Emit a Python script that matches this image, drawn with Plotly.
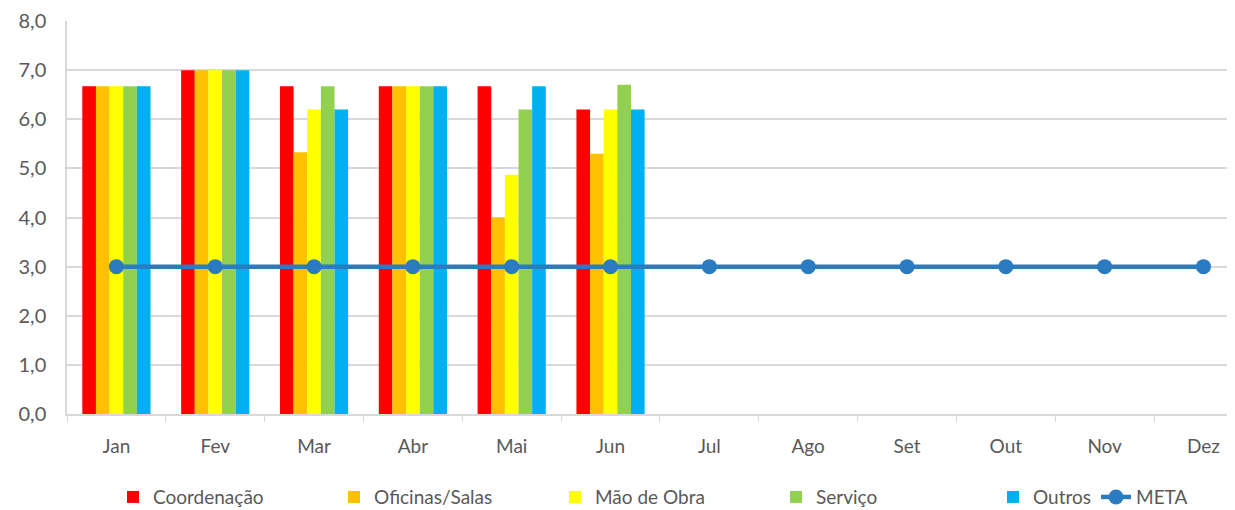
import plotly.graph_objects as go

months = ["Jan", "Fev", "Mar", "Abr", "Mai", "Jun", "Jul", "Ago", "Set", "Out", "Nov", "Dez"]
coordenacao = [6.67, 7.0, 6.67, 6.67, 6.67, 6.2]
oficinas = [6.67, 7.0, 5.33, 6.67, 4.0, 5.3]
mao_de_obra = [6.67, 7.0, 6.2, 6.67, 4.87, 6.2]
servico = [6.67, 7.0, 6.67, 6.67, 6.2, 6.7]
outros = [6.67, 7.0, 6.2, 6.67, 6.67, 6.2]
meta = [3.0] * 12

series = [
    ("Coordenação", coordenacao, "#FF0000", "legend"),
    ("Oficinas/Salas", oficinas, "#FFC000", "legend"),
    ("Mão de Obra", mao_de_obra, "#FFFF00", "legend"),
    ("Serviço", servico, "#92D050", "legend"),
    ("Outros", outros, "#00B0F0", "legend2"),
]

fig = go.Figure()
for name, vals, color, lg in series:
    fig.add_trace(go.Bar(x=months[:len(vals)], y=vals, name=name, legend=lg,
                         marker=dict(color=color, line=dict(width=0))))
fig.add_trace(go.Scatter(x=months, y=meta, name="META", mode="lines+markers",
                         legend="legend2",
                         line=dict(color="#2B7BC0", width=4.5),
                         marker=dict(color="#2B7BC0", size=15)))

font_family = "Lato, sans-serif"
W, H = 1235, 510
legend_font = dict(size=19, color="#595959")
fig.update_layout(
    width=W, height=H,
    margin=dict(l=58.5, r=0, t=13, b=104, autoexpand=False),
    paper_bgcolor="white", plot_bgcolor="white",
    barmode="group", bargap=0.31, bargroupgap=0,
    separators=",.",
    font=dict(family=font_family, size=19, color="#595959"),
    showlegend=True,
    legend=dict(orientation="h", xref="container", yref="container",
                x=105 / W, xanchor="left", y=0.041, yanchor="middle",
                font=legend_font, entrywidth=176, entrywidthmode="pixels",
                traceorder="normal", bgcolor="rgba(0,0,0,0)"),
    legend2=dict(orientation="h", xref="container", yref="container",
                 x=985 / W, xanchor="left", y=0.041, yanchor="middle",
                 font=legend_font, traceorder="normal", bgcolor="rgba(0,0,0,0)"),
    xaxis=dict(type="category", categoryorder="array", categoryarray=months,
               range=[-0.5, 11.4], tickson="boundaries", ticks="outside",
               ticklen=6, tickcolor="#D9D9D9", showline=True, linecolor="#D9D9D9",
               linewidth=1.5, showgrid=False, tickangle=0, ticklabelstandoff=14,
               tickfont=dict(size=19, color="#595959")),
    yaxis=dict(range=[0, 8], dtick=1, tickformat=".1f", showgrid=True,
               gridcolor="#D9D9D9", gridwidth=1.5, showline=True, linecolor="#D9D9D9",
               linewidth=1.5, zeroline=False, ticks="", ticklabelstandoff=15,
               tickfont=dict(size=20, color="#595959")),
)

fig.write_html("out.html")
